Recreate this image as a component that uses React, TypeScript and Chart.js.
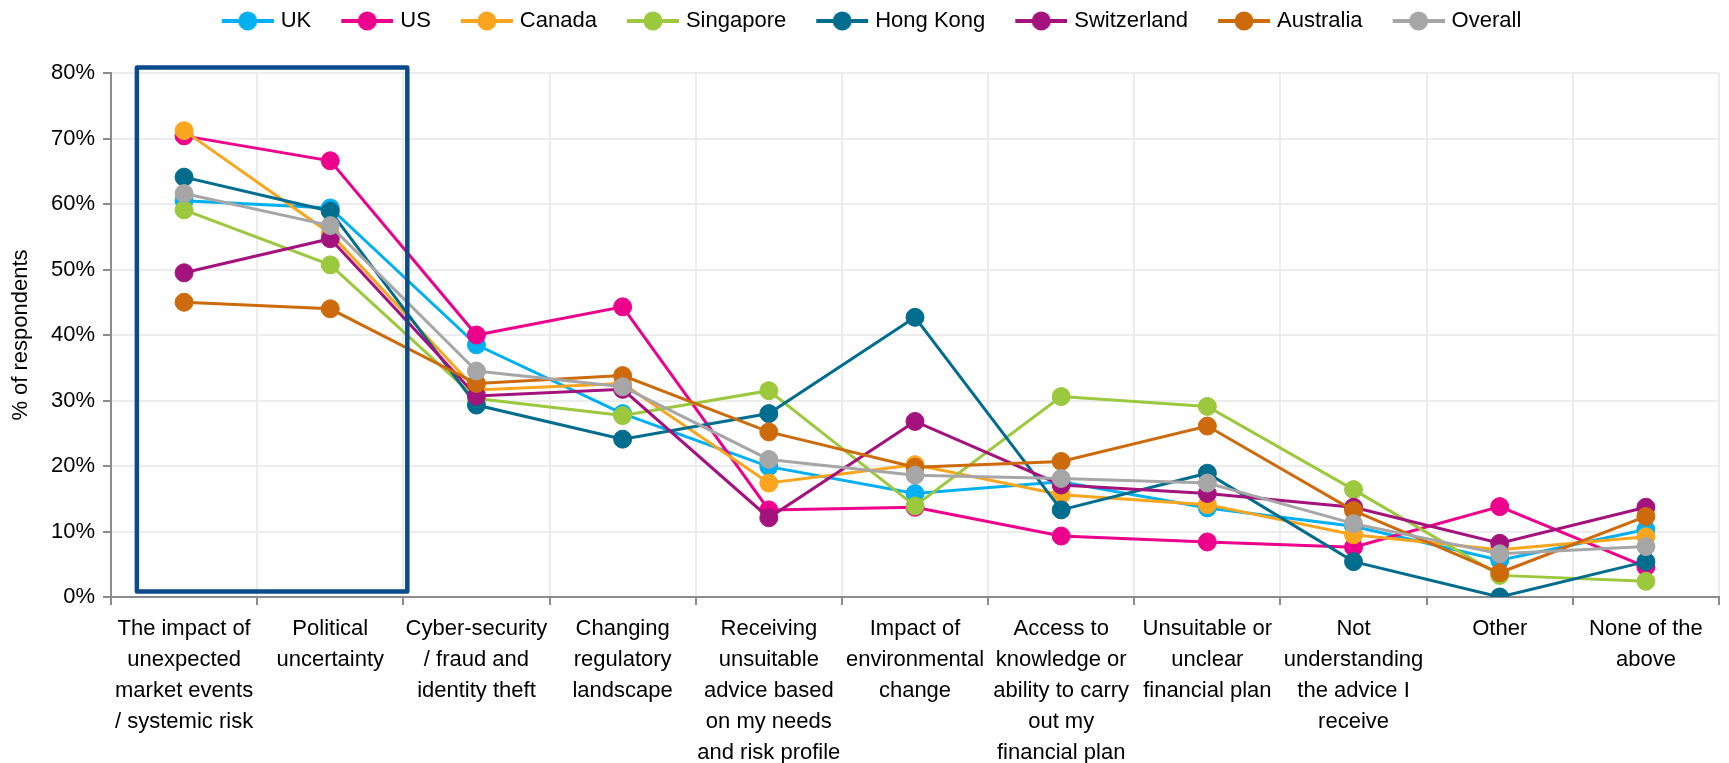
import React, { useEffect, useRef } from "react";
import { Chart, registerables } from "chart.js";

Chart.register(...registerables);

const categories: string[][] = [
  ["The impact of", "unexpected", "market events", "/ systemic risk"],
  ["Political", "uncertainty"],
  ["Cyber-security", "/ fraud and", "identity theft"],
  ["Changing", "regulatory", "landscape"],
  ["Receiving", "unsuitable", "advice based", "on my needs", "and risk profile"],
  ["Impact of", "environmental", "change"],
  ["Access to", "knowledge or", "ability to carry", "out my", "financial plan"],
  ["Unsuitable or", "unclear", "financial plan"],
  ["Not", "understanding", "the advice I", "receive"],
  ["Other"],
  ["None of the", "above"],
];

const uk = [60.5, 59.4, 38.5, 28.0, 19.9, 15.8, 17.6, 13.6, 10.8, 5.6, 10.3];
const us = [70.4, 66.6, 40.0, 44.3, 13.3, 13.7, 9.3, 8.4, 7.6, 13.8, 4.6];
const canada = [71.2, 55.5, 31.6, 32.6, 17.4, 20.2, 15.6, 14.1, 9.5, 7.2, 9.2];
const singapore = [59.1, 50.7, 30.3, 27.7, 31.5, 13.9, 30.6, 29.1, 16.4, 3.3, 2.4];
const hongKong = [64.1, 58.9, 29.3, 24.1, 28.0, 42.7, 13.3, 18.9, 5.4, 0, 5.4];
const switzerland = [49.5, 54.7, 30.7, 31.7, 12.1, 26.8, 17.1, 15.8, 13.7, 8.2, 13.7];
const australia = [45.0, 44.0, 32.6, 33.8, 25.2, 19.8, 20.7, 26.1, 13.2, 3.7, 12.3];
const overall = [61.6, 56.7, 34.5, 32.1, 21.0, 18.6, 18.1, 17.4, 11.2, 6.6, 7.7];

const seriesNames = ["UK", "US", "Canada", "Singapore", "Hong Kong", "Switzerland", "Australia", "Overall"];
const seriesValues = [uk, us, canada, singapore, hongKong, switzerland, australia, overall];
const seriesColors = ["#00b0f0", "#ec008c", "#f9a51e", "#9bc83d", "#006d8f", "#a3127d", "#cc6a0c", "#a6a6a6"];

const yTicks = [0, 10, 20, 30, 40, 50, 60, 70, 80];

const FONT = "'Liberation Sans', Arial, sans-serif";
const FS = 22;

// legend box geometry
const BOX_W = 68;
const ICON_L = 20;
const ICON_R = 72;

function legendIcon(color: string): HTMLCanvasElement {
  const half = Math.max(BOX_W / 2, ICON_R - BOX_W / 2);
  const W = Math.ceil(half * 2);
  const off = half - BOX_W / 2;
  const c = document.createElement("canvas");
  c.width = W;
  c.height = 22;
  const g = c.getContext("2d")!;
  g.strokeStyle = color;
  g.lineWidth = 4;
  g.beginPath();
  g.moveTo(off + ICON_L, 11);
  g.lineTo(off + ICON_R, 11);
  g.stroke();
  g.fillStyle = color;
  g.beginPath();
  g.arc(off + (ICON_L + ICON_R) / 2, 11, 9.5, 0, Math.PI * 2);
  g.fill();
  return c;
}

const highlightBox = {
  id: "highlightBox",
  afterDatasetsDraw(chart: any) {
    const x = chart.scales.x;
    const y = chart.scales.y;
    const cw = x.getPixelForValue(1) - x.getPixelForValue(0);
    const left = x.getPixelForValue(0) - 0.323 * cw;
    const right = x.getPixelForValue(1) + 0.527 * cw;
    const top = y.getPixelForValue(80.85);
    const bottom = y.getPixelForValue(0.85);
    const ctx = chart.ctx;
    ctx.save();
    ctx.strokeStyle = "#0b4a8b";
    ctx.lineWidth = 4.5;
    ctx.lineJoin = "round";
    ctx.strokeRect(left, top, right - left, bottom - top);
    ctx.restore();
  },
};

export default function App() {
  const ref = useRef<HTMLCanvasElement>(null);
  useEffect(() => {
    document.body.style.margin = "0";
    const icons = seriesColors.map(legendIcon);
    const chart = new Chart(ref.current!, {
      type: "line",
      data: {
        labels: categories,
        datasets: seriesNames.map((name, i) => ({
          label: name,
          data: seriesValues[i],
          borderColor: seriesColors[i],
          backgroundColor: seriesColors[i],
          pointBackgroundColor: seriesColors[i],
          pointBorderColor: seriesColors[i],
          pointStyle: "circle",
          pointRadius: 9,
          pointBorderWidth: 1,
          borderWidth: 3,
          tension: 0,
          order: seriesNames.length - i,
        })) as any,
      },
      options: {
        animation: false,
        responsive: false,
        maintainAspectRatio: false,
        layout: { padding: { left: 0, right: 6, top: 0, bottom: 0 } },
        plugins: {
          tooltip: { enabled: false },
          title: {
            display: true,
            text: "",
            weight: 500,
            position: "top",
            font: { size: 1, lineHeight: 1 },
            padding: { top: 15, bottom: 15 },
          } as any,
          legend: {
            position: "top",
            labels: {
              usePointStyle: true,
              pointStyleWidth: BOX_W,
              padding: 10,
              color: "#000",
              font: { family: FONT, size: FS },
              generateLabels: (chart: any) =>
                chart.data.datasets.map((ds: any, i: number) => ({
                  text: ds.label,
                  fillStyle: seriesColors[i],
                  strokeStyle: seriesColors[i],
                  lineWidth: 0,
                  pointStyle: icons[i],
                  hidden: false,
                  datasetIndex: i,
                  fontColor: "#000",
                })),
            },
          },
        },
        scales: {
          x: {
            type: "category",
            offset: true,
            grid: {
              offset: true,
              color: "#ececec",
              lineWidth: 2,
              tickColor: "#8c8c8c",
              tickLength: 8,
              drawTicks: true,
            },
            border: { color: "#8c8c8c", width: 2 },
            ticks: {
              color: "#000",
              maxRotation: 0,
              minRotation: 0,
              autoSkip: false,
              padding: 9,
              font: { family: FONT, size: FS, lineHeight: 1.4 },
            },
            afterFit: (s: any) => {
              s.height = 166;
            },
          },
          y: {
            min: 0,
            max: 80,
            afterBuildTicks: (s: any) => {
              s.ticks = yTicks.map((v) => ({ value: v }));
            },
            grid: {
              color: "#ececec",
              lineWidth: 2,
              tickColor: "#8c8c8c",
              tickLength: 8,
            },
            border: { color: "#8c8c8c", width: 2 },
            ticks: {
              color: "#000",
              padding: 8,
              font: { family: FONT, size: FS },
              callback: (v: any) => v + "%",
            },
            title: {
              display: true,
              text: "% of respondents",
              color: "#000",
              font: { family: FONT, size: FS },
              padding: { top: 8, bottom: 4 },
            },
            afterFit: (s: any) => {
              s.width = 111;
            },
          },
        },
      },
      plugins: [highlightBox],
    });
    return () => chart.destroy();
  }, []);
  return (
    <div style={{ width: 1729, height: 763, position: "relative" }}>
      <canvas ref={ref} width={1729} height={763} style={{ width: 1729, height: 763, display: "block" }} />
    </div>
  );
}
